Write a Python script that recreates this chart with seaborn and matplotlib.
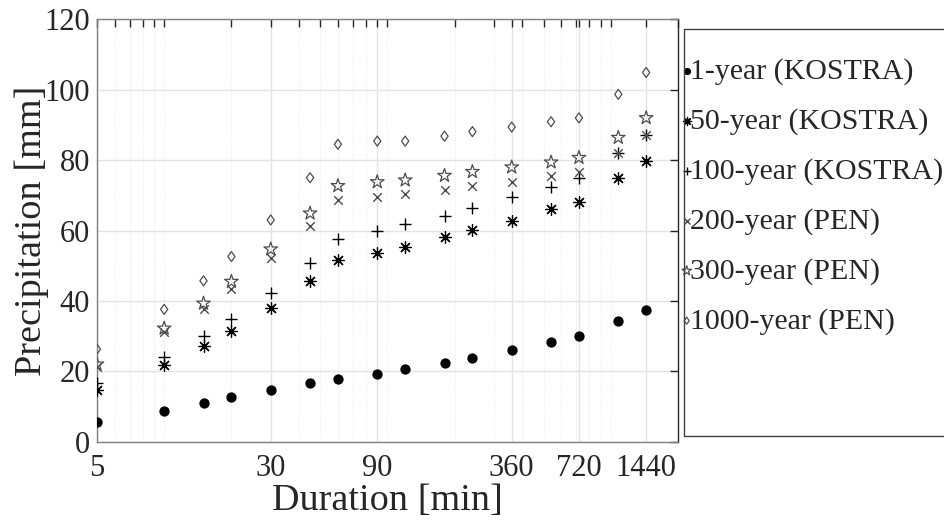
import numpy as np
import pandas as pd
import matplotlib
matplotlib.use("Agg")
import matplotlib.pyplot as plt
import seaborn as sns
from matplotlib.path import Path
from matplotlib.patches import Rectangle
from matplotlib.ticker import FixedLocator, NullFormatter

# Duration of rain events (min)
durations = [5, 10, 15, 20, 30, 45, 60, 90, 120, 180, 240, 360, 540, 720, 1080, 1440]

# Precipitation depths (mm)
p_1 = [5.5, 8.8, 11.0, 12.6, 14.7, 16.6, 17.7, 19.2, 20.6, 22.4, 23.8, 26.0, 28.4, 30.1, 34.3, 37.4]
p_50 = [14.7, 21.8, 27.2, 31.5, 38.1, 45.7, 51.6, 53.7, 55.4, 58.1, 60.1, 62.8, 66.0, 68.2, 74.8, 79.7]
p_100 = [16.6, 24.2, 30.1, 34.9, 42.2, 50.7, 57.6, 60.0, 61.8, 64.2, 66.4, 69.6, 72.5, 74.8, 81.9, 87.1]
p_200 = [21.3, 31.3, 37.7, 43.4, 52.1, 61.3, 68.8, 69.6, 70.4, 71.5, 72.7, 73.9, 75.5, 76.7, 82.0, 87.2]
p_300 = [22.0, 32.2, 39.3, 45.5, 54.7, 64.9, 72.7, 73.8, 74.3, 75.6, 76.7, 78.0, 79.4, 80.7, 86.4, 92.0]
p_1000 = [26.3, 37.6, 45.7, 52.6, 63.0, 75.0, 84.5, 85.4, 85.4, 86.8, 88.1, 89.4, 90.9, 92.0, 98.7, 104.9]

labels = ["1-year (KOSTRA)", "50-year (KOSTRA)", "100-year (KOSTRA)",
          "200-year (PEN)", "300-year (PEN)", "1000-year (PEN)"]

major_ticks = [5, 30, 90, 360, 720, 1440]
minor_ticks = [6, 7, 8, 9, 10, 20, 40, 50, 60, 70, 80, 100, 200, 300, 400,
               500, 600, 700, 800, 900, 1000, 2000]

sns.set_style("white")
plt.rcParams["font.family"] = ["Liberation Serif", "DejaVu Serif"]
plt.rcParams["text.color"] = "#262626"

fig = plt.figure(figsize=(9.45, 5.23), dpi=100)
ax = fig.add_axes([0.1026, 0.1555, 0.6149, 0.8075])

gray = "#4d4d4d"
diamond = Path([(0, -1), (0.72, 0), (0, 1), (-0.72, 0), (0, -1)],
               [Path.MOVETO, Path.LINETO, Path.LINETO, Path.LINETO, Path.CLOSEPOLY])

styles = [
    dict(marker="o", s=55, color="black", linewidth=0),
    dict(marker=(8, 2, 0), s=72, color="black", linewidth=0.9),
    dict(marker="+", s=72, color="black", linewidth=1.0),
    dict(marker="x", s=38, color=gray, linewidth=1.0),
    dict(marker="*", s=105, facecolor="none", edgecolor=gray, linewidth=0.9),
    dict(marker=diamond, s=52, facecolor="none", edgecolor=gray, linewidth=0.9),
]
series = [p_1, p_50, p_100, p_200, p_300, p_1000]

for vals, lab, st in zip(series, labels, styles):
    df = pd.DataFrame({"duration": durations, "precip": vals})
    sns.scatterplot(data=df, x="duration", y="precip", ax=ax, label=lab,
                    zorder=3, **st)

ax.set_xscale("log")
ax.set_xlim(5, 2000)
ax.set_ylim(0, 120)
ax.xaxis.set_major_locator(FixedLocator(major_ticks))
ax.set_xticklabels([str(t) for t in major_ticks])
ax.xaxis.set_minor_locator(FixedLocator(minor_ticks))
ax.xaxis.set_minor_formatter(NullFormatter())
ax.set_yticks(np.arange(0, 121, 20))

ax.grid(True, which="major", color="#e3e3e3", linewidth=1.0, zorder=0)
ax.grid(True, which="minor", axis="x", color="#e6e6e6", linewidth=0.7,
        linestyle=":", zorder=0)
ax.set_axisbelow(True)

for sp in ax.spines.values():
    sp.set_color("#808080")
    sp.set_linewidth(1.0)
ax.spines["right"].set_color("#262626")

ax.tick_params(which="both", direction="in", top=True, right=True,
               length=6, width=1.0, color="#262626")
ax.tick_params(axis="x", labelsize=22, pad=9, labelcolor="#262626")
ax.tick_params(axis="y", labelsize=22, pad=5, labelcolor="#262626")

ax.set_xlabel("Duration [min]", fontsize=27.5)
ax.set_ylabel("Precipitation [mm]", fontsize=27.5)
ax.xaxis.set_label_coords(0.5, -0.098)
ax.yaxis.set_label_coords(-0.082, 0.5)

# legend box (drawn separately, it is taller than the entries)
fig.patches.append(Rectangle((684 / 945, 1 - 436 / 523), 0.3, (436 - 29) / 523,
                             transform=fig.transFigure, fill=False,
                             edgecolor="#404040", linewidth=1.0))
leg = ax.legend(loc="upper left", bbox_to_anchor=(681.5 / 945, 1 - 58 / 523),
                bbox_transform=fig.transFigure, frameon=False, fontsize=21.5,
                markerscale=0.7, handlelength=0.35, handletextpad=-0.05,
                borderpad=0, borderaxespad=0, labelspacing=0.76, scatterpoints=1)

fig.savefig("out.png", dpi=100, facecolor="white")
